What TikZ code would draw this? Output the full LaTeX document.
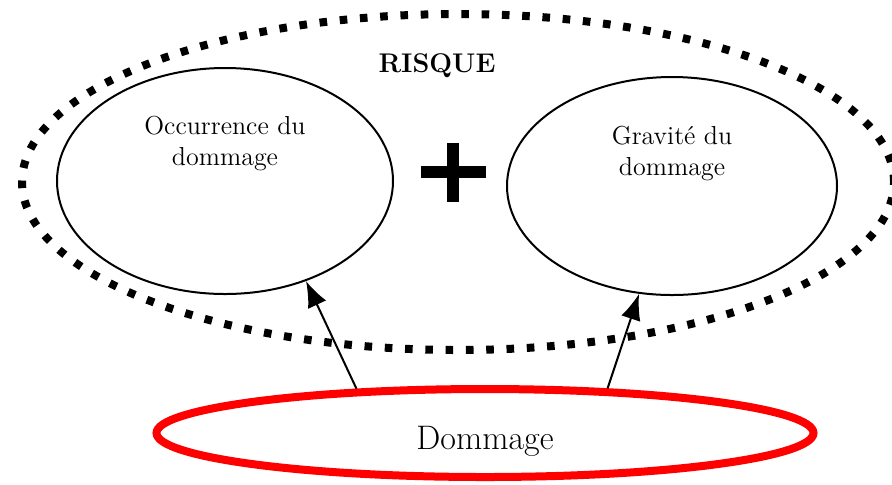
\documentclass[tikz,border=0pt]{standalone}
\usepackage{tikz}
\usetikzlibrary{shapes.geometric,arrows.meta}
\tikzstyle{line} = [draw, line width=1pt, -{Latex[length=13pt,width=10pt]}]
\tikzstyle{bubble} = [draw, ellipse, line width=1pt, inner sep=0pt]
\tikzstyle{zone} = [draw, ellipse, line width=4pt, dash pattern=on 3.8pt off 6.35pt, inner sep=0pt]
\tikzstyle{redring} = [draw=red, ellipse, line width=4pt, inner sep=0pt]
\tikzstyle{texte} = [font=\fontsize{13}{15.5}\selectfont, align=center]
\tikzstyle{plusbar} = [draw, line width=6pt]

\begin{document}
\begin{tikzpicture}[x=0.5pt, y=-0.5pt]
        \useasboundingbox (0,0) rectangle (892,484);
        \node[zone, minimum width=436pt, minimum height=168pt] (risque) at (458,182) {};
        \node[font=\fontsize{13.5}{15}\selectfont\bfseries] (titre) at (437,66) {RISQUE};
        \node[bubble, minimum width=168pt, minimum height=113pt,
              label={[texte, yshift=18.5pt]center:Occurrence du\\dommage}] (occ) at (225,181) {};
        \node[bubble, minimum width=165pt, minimum height=109pt,
              label={[texte, yshift=16pt]center:Gravit\'e du\\dommage}] (grav) at (672,186) {};
        \node[redring, minimum width=328.5pt, minimum height=44pt,
              label={[font=\fontsize{17}{20}\selectfont, yshift=-4.3pt]center:Dommage}] (dom) at (485,433) {};
        \coordinate (plus) at (453,172);
        \path[plusbar] ([xshift=-16.25pt]plus) -- ([xshift=16.25pt]plus);
        \path[plusbar] ([yshift=-14.75pt]plus) -- ([yshift=14.75pt]plus);
        \path[line] (dom.161) -- (occ.-51);
        \path[line] (dom.20.2) -- (grav.-107);
    \end{tikzpicture}
\end{document}
